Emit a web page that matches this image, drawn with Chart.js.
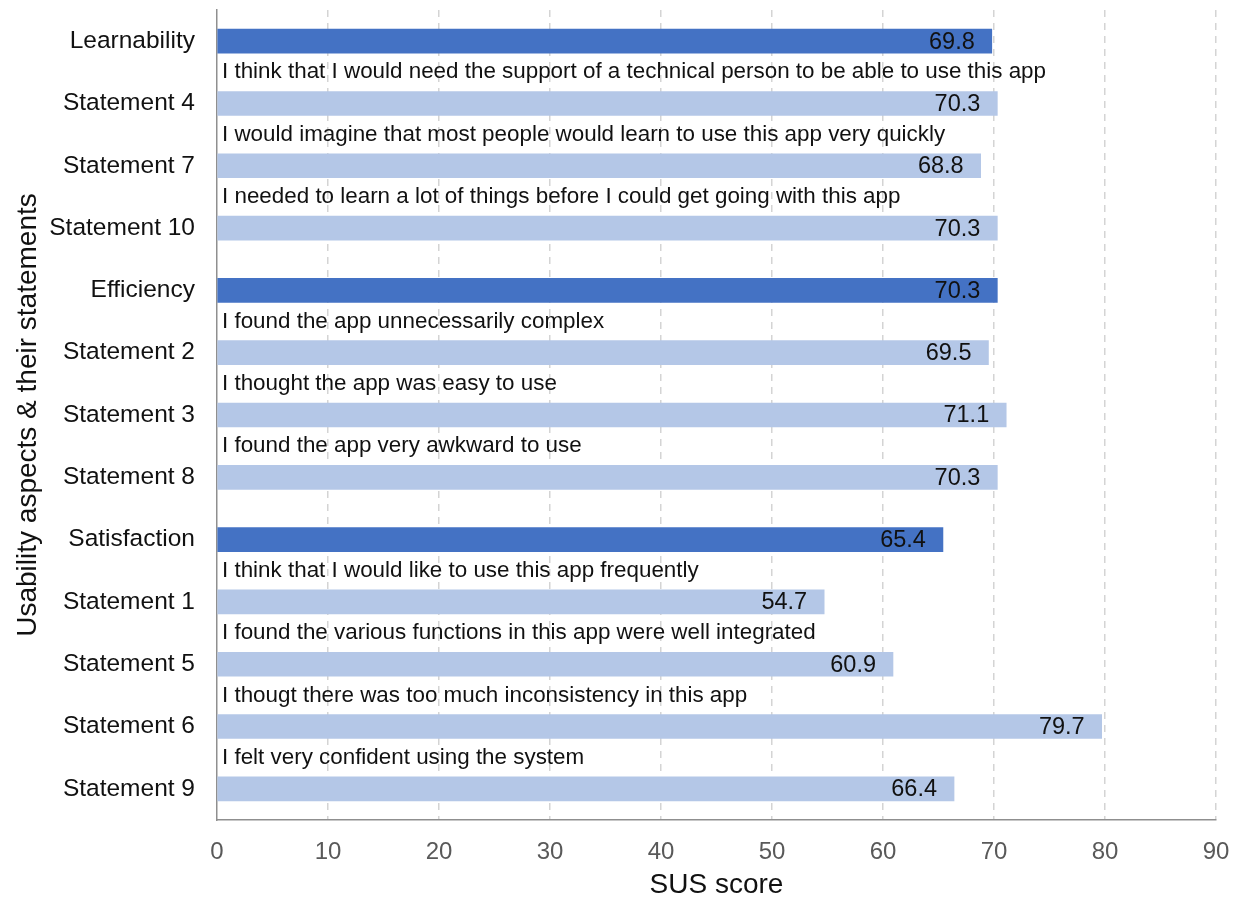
<!DOCTYPE html>
<html>
<head>
<meta charset="utf-8">
<script src="https://cdn.jsdelivr.net/npm/chart.js@4"></script>
<style>
  html, body { margin: 0; padding: 0; background: #fff; }
  canvas { display: block; }
</style>
</head>
<body>
<canvas id="c" width="1239" height="903"></canvas>
<script>
const categories = [
  "Learnability", "Statement 4", "Statement 7", "Statement 10",
  "Efficiency", "Statement 2", "Statement 3", "Statement 8",
  "Satisfaction", "Statement 1", "Statement 5", "Statement 6", "Statement 9"
];
const scores = [69.8, 70.3, 68.8, 70.3, 70.3, 69.5, 71.1, 70.3, 65.4, 54.7, 60.9, 79.7, 66.4];
const statementTexts = [
  "",
  "I think that I would need the support of a technical person to be able to use this app",
  "I would imagine that most people would learn to use this app very quickly",
  "I needed to learn a lot of things before I could get going with this app",
  "",
  "I found the app unnecessarily complex",
  "I thought the app was easy to use",
  "I found the app very awkward to use",
  "",
  "I think that I would like to use this app frequently",
  "I found the various functions in this app were well integrated",
  "I thougt there was too much inconsistency in this app",
  "I felt very confident using the system"
];
const xTicks = [0, 10, 20, 30, 40, 50, 60, 70, 80, 90];

const FONT = "'Liberation Sans', Arial, Helvetica, sans-serif";
const DARK = "#4472C4";
const LIGHT = "#B4C7E7";

const valueLabels = {
  id: "valueLabels",
  afterDatasetsDraw(chart) {
    const ctx = chart.ctx;
    const meta = chart.getDatasetMeta(0);
    ctx.save();
    ctx.font = "23.5px " + FONT;
    ctx.fillStyle = "#111111";
    ctx.textAlign = "right";
    ctx.textBaseline = "middle";
    meta.data.forEach((bar, i) => {
      ctx.fillText(scores[i].toFixed(1), bar.x - 17, bar.y + 1);
    });
    ctx.restore();
  }
};

const statementLabels = {
  id: "statementLabels",
  afterDatasetsDraw(chart) {
    const ctx = chart.ctx;
    const xs = chart.scales.x, ys = chart.scales.y;
    ctx.save();
    ctx.font = "22.4px " + FONT;
    ctx.fillStyle = "#111111";
    ctx.textAlign = "left";
    ctx.textBaseline = "middle";
    statementTexts.forEach((t, i) => {
      if (!t || i === 0) return;
      const y = (ys.getPixelForValue(i - 1) + ys.getPixelForValue(i)) / 2;
      ctx.fillText(t, xs.getPixelForValue(0) + 5, y);
    });
    ctx.restore();
  }
};

new Chart(document.getElementById("c"), {
  type: "bar",
  data: {
    labels: categories,
    datasets: [{
      data: scores,
      backgroundColor: categories.map(c => c.startsWith("Statement") ? LIGHT : DARK),
      borderWidth: 0,
      barThickness: 24
    }]
  },
  options: {
    indexAxis: "y",
    responsive: false,
    animation: false,
    devicePixelRatio: 1,
    layout: { padding: { top: 10, right: 23, bottom: 0, left: 0 } },
    plugins: { legend: { display: false }, tooltip: { enabled: false } },
    scales: {
      x: {
        type: "linear",
        min: 0,
        max: 90,
        afterBuildTicks: (s) => { s.ticks = xTicks.map(v => ({ value: v })); },
        afterFit: (s) => { s.height = 83; s.paddingLeft = 0; s.paddingRight = 0; },
        ticks: {
          color: "#595959",
          font: { family: FONT, size: 24 },
          padding: 18
        },
        grid: {
          drawTicks: false,
          color: (c) => (c.tick && c.tick.value === 0) ? "rgba(0,0,0,0)" : "#d4d4d4",
          lineWidth: 1.5
        },
        border: { display: true, color: "#8f8f8f", width: 1.5, dash: [7, 6] },
        title: {
          display: true,
          text: "SUS score",
          color: "#111111",
          font: { family: FONT, size: 28 },
          padding: { top: 0, bottom: 1 }
        }
      },
      y: {
        afterFit: (s) => { s.width = 217; s.paddingTop = 0; s.paddingBottom = 0; },
        ticks: {
          color: "#111111",
          font: { family: FONT, size: 24.5 },
          padding: 22,
          autoSkip: false
        },
        grid: { display: false, drawTicks: false },
        border: { display: true, color: "#8f8f8f", width: 1.5 },
        title: {
          display: true,
          text: "Usability aspects & their statements",
          color: "#111111",
          font: { family: FONT, size: 28 },
          padding: { top: 11, bottom: 0 }
        }
      }
    }
  },
  plugins: [valueLabels, statementLabels]
});
</script>
</body>
</html>
